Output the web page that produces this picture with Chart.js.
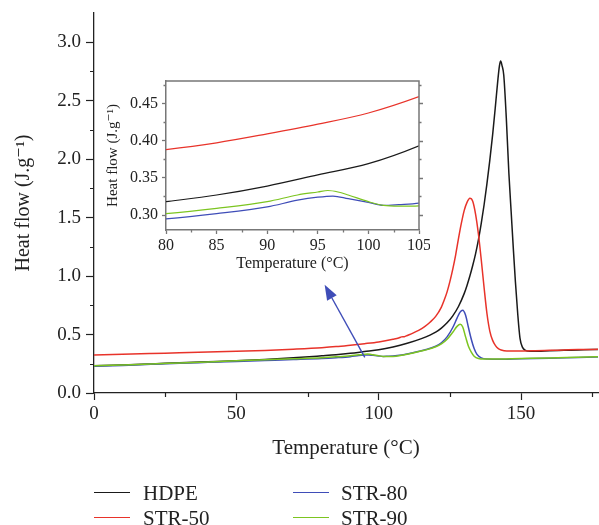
<!DOCTYPE html>
<html><head><meta charset="utf-8">
<script src="https://cdn.jsdelivr.net/npm/chart.js@4.4.1/dist/chart.umd.min.js"></script>
<style>
html,body{margin:0;padding:0;background:#fff;}
#wrap{position:relative;width:599px;height:525px;overflow:hidden;background:#fff;}
#main{position:absolute;left:0;top:0;}
#inset{position:absolute;left:100px;top:70px;}
.lg{position:absolute;height:24px;line-height:24px;font-family:"Liberation Serif","DejaVu Serif",serif;font-size:21px;color:#222;white-space:nowrap;}
.ln{position:absolute;height:0;border-top:1.5px solid #000;}
</style>
</head><body>
<div id="wrap">
<canvas id="main" width="599" height="525"></canvas>
<canvas id="inset" width="330" height="210"></canvas>
</div>
<script>
// ---------- data ----------
const seriesNames = ['HDPE', 'STR-50', 'STR-80', 'STR-90'];
const seriesColors = ['#1a1a1a', '#e8332a', '#3f4db8', '#7cc520'];

const hdpeT  = [0,10,20,30,40,50,60,70,80,85,90,95,100,105,110,115,118,120,122,124,126,128,130,131,132,133,134,135,136,137,138,139,140,141,141.8,142.4,142.8,143.3,143.9,144.8,145.7,146.5,147.3,148,148.8,149.6,150.5,151.5,153,156,160,165,170,175,177];
const hdpeHF = [0.232,0.240,0.249,0.258,0.267,0.276,0.287,0.301,0.318,0.327,0.339,0.354,0.369,0.393,0.425,0.465,0.495,0.52,0.555,0.60,0.66,0.74,0.85,0.92,1.00,1.09,1.19,1.31,1.45,1.61,1.79,1.99,2.21,2.46,2.67,2.80,2.84,2.80,2.72,2.35,1.88,1.55,1.22,0.95,0.68,0.47,0.39,0.365,0.357,0.358,0.362,0.365,0.368,0.371,0.372];

const str50T  = [0,10,20,30,40,50,60,70,80,85,90,95,100,105,107,108,109,110,112,114,116,118,120,122,123,124,125,126,127,128,129,130,131,132,133,134,135,136,137,138,139,140,141,142,143,145,150,155,160,165,170,177];
const str50HF = [0.326,0.332,0.338,0.344,0.350,0.357,0.364,0.375,0.388,0.397,0.409,0.422,0.437,0.459,0.470,0.480,0.482,0.492,0.512,0.535,0.565,0.605,0.655,0.735,0.795,0.865,0.955,1.06,1.18,1.32,1.45,1.56,1.63,1.665,1.64,1.53,1.36,1.14,0.90,0.68,0.53,0.45,0.405,0.38,0.368,0.36,0.360,0.362,0.365,0.368,0.371,0.374];

const str80T  = [0,10,20,30,40,50,60,70,80,85,90,93,95,96.5,98,100,101.5,103,105,108,112,116,120,122,124,126,127.5,128.5,129.5,130.5,131.5,132.5,133.5,134.5,136,138,140,150,160,170,177];
const str80HF = [0.228,0.236,0.245,0.254,0.262,0.270,0.278,0.286,0.295,0.302,0.311,0.320,0.324,0.3255,0.322,0.317,0.313,0.314,0.316,0.325,0.345,0.368,0.40,0.43,0.48,0.56,0.64,0.69,0.708,0.665,0.56,0.46,0.38,0.33,0.30,0.29,0.289,0.293,0.298,0.304,0.308];

const str90T  = [0,10,20,30,40,50,60,70,80,85,90,93,95,96,97,98,100,101.5,103,105,108,112,116,120,122,124,126,127.5,128.6,129.5,130.5,131.5,132.5,133.5,135,137,140,150,160,170,177];
const str90HF = [0.232,0.240,0.248,0.257,0.266,0.275,0.284,0.293,0.302,0.309,0.318,0.327,0.331,0.333,0.331,0.327,0.318,0.313,0.312,0.3125,0.322,0.342,0.365,0.395,0.42,0.46,0.52,0.57,0.588,0.565,0.48,0.40,0.35,0.315,0.295,0.290,0.290,0.295,0.300,0.306,0.310];

const mainXTicks = [0, 50, 100, 150];
const mainXMinor = [25, 75, 125, 175];
const mainYTicks = [0, 0.5, 1.0, 1.5, 2.0, 2.5, 3.0];
const mainYMinor = [0.25, 0.75, 1.25, 1.75, 2.25, 2.75];
const insetXTicks = [80, 85, 90, 95, 100, 105];
const insetXMinor = [82.5, 87.5, 92.5, 97.5, 102.5];
const insetYTicks = [0.30, 0.35, 0.40, 0.45];
const insetYMinor = [0.325, 0.375, 0.425, 0.475];

const xTitle = 'Temperature (°C)';
const yTitle = 'Heat flow (J.g⁻¹)';

// arrow annotation (data coordinates of main chart)
const arrowFrom = {x: 95.1, y: 0.304};
const arrowTo = {x: 81.0, y: 0.925};

// ---------- helpers ----------
const SERIF = "'Liberation Serif','DejaVu Serif',serif";
const TXT = '#222';
const seriesT = [hdpeT, str50T, str80T, str90T];
const seriesHF = [hdpeHF, str50HF, str80HF, str90HF];

function makeDatasets(lw) {
  return seriesNames.map((name, i) => ({
    label: name,
    data: seriesT[i].map((t, j) => ({x: t, y: seriesHF[i][j]})),
    borderColor: seriesColors[i],
    backgroundColor: seriesColors[i],
    borderWidth: lw,
    pointRadius: 0,
    fill: false,
    cubicInterpolationMode: 'monotone',
    order: 4 - i
  }));
}

const minorTickPlugin = {
  id: 'minorTicks',
  afterDraw(chart, args, o) {
    const ctx = chart.ctx, xs = chart.scales.x, ys = chart.scales.y, ca = chart.chartArea;
    ctx.save();
    ctx.strokeStyle = o.color; ctx.lineWidth = o.width;
    ctx.beginPath();
    (o.x || []).forEach(v => { const p = Math.round(xs.getPixelForValue(v)) + 0.5; ctx.moveTo(p, ca.bottom); ctx.lineTo(p, ca.bottom + o.len); });
    (o.y || []).forEach(v => { const p = Math.round(ys.getPixelForValue(v)) + 0.5; ctx.moveTo(ca.left, p); ctx.lineTo(ca.left - o.len, p); });
    if (o.frame) {
      ctx.stroke();
      ctx.beginPath();
      ctx.lineWidth = o.frameWidth || o.width;
      ctx.moveTo(ca.left, ca.top); ctx.lineTo(ca.right, ca.top); ctx.lineTo(ca.right, ca.bottom);
      ctx.stroke();
      ctx.beginPath();
      ctx.lineWidth = o.width;
      (o.rightMajor || []).forEach(v => { const p = Math.round(ys.getPixelForValue(v)) + 0.5; ctx.moveTo(ca.right, p); ctx.lineTo(ca.right + o.majorLen, p); });
      (o.y || []).forEach(v => { const p = Math.round(ys.getPixelForValue(v)) + 0.5; ctx.moveTo(ca.right, p); ctx.lineTo(ca.right + o.len, p); });
    }
    ctx.stroke();
    ctx.restore();
  }
};

const arrowPlugin = {
  id: 'arrow',
  afterDatasetsDraw(chart, args, o) {
    if (!o.from) return;
    const xs = chart.scales.x, ys = chart.scales.y, ctx = chart.ctx;
    const x1 = xs.getPixelForValue(o.from.x), y1 = ys.getPixelForValue(o.from.y);
    const x2 = xs.getPixelForValue(o.to.x), y2 = ys.getPixelForValue(o.to.y);
    const ang = Math.atan2(y2 - y1, x2 - x1);
    const hl = 15, hw = 5.5;
    const bx = x2 - hl * Math.cos(ang), by = y2 - hl * Math.sin(ang);
    ctx.save();
    ctx.strokeStyle = o.color; ctx.fillStyle = o.color; ctx.lineWidth = 1.4;
    ctx.beginPath(); ctx.moveTo(x1, y1); ctx.lineTo(bx, by); ctx.stroke();
    ctx.beginPath();
    ctx.moveTo(x2, y2);
    ctx.lineTo(bx + hw * Math.sin(ang), by - hw * Math.cos(ang));
    ctx.lineTo(bx - hw * Math.sin(ang), by + hw * Math.cos(ang));
    ctx.closePath(); ctx.fill();
    ctx.restore();
  }
};

function setTicks(arr) { return s => { s.ticks = arr.map(v => ({value: v})); }; }
function fitTo(prop, val) {
  return s => { s[prop] = val; s.paddingTop = 0; s.paddingBottom = 0; s.paddingLeft = 0; s.paddingRight = 0; };
}

// ---------- main chart ----------
new Chart(document.getElementById('main'), {
  type: 'line',
  data: {datasets: makeDatasets(1.5)},
  plugins: [minorTickPlugin, arrowPlugin],
  options: {
    responsive: false, animation: false,
    layout: {padding: {left: 0, right: 1, top: 13, bottom: 62}},
    plugins: {
      legend: {display: false}, tooltip: {enabled: false},
      minorTicks: {x: mainXMinor, y: mainYMinor, len: 4, color: '#222', width: 1.2},
      arrow: {from: arrowFrom, to: arrowTo, color: '#3f4db8'}
    },
    scales: {
      x: {
        type: 'linear', position: 'bottom', min: 0, max: 177,
        afterBuildTicks: setTicks(mainXTicks),
        afterFit: fitTo('height', 70),
        grid: {drawOnChartArea: false, drawTicks: true, tickLength: 7, color: '#222', tickWidth: 1.2},
        border: {display: true, color: '#222', width: 1.3},
        ticks: {font: {family: SERIF, size: 19}, color: TXT, padding: 3, maxRotation: 0, autoSkip: false, callback: v => String(v)},
        title: {display: true, text: xTitle, font: {family: SERIF, size: 21}, color: TXT, padding: {top: 0, bottom: 2}}
      },
      y: {
        type: 'linear', position: 'left', min: 0, max: 3.25,
        afterBuildTicks: setTicks(mainYTicks),
        afterFit: fitTo('width', 94),
        grid: {drawOnChartArea: false, drawTicks: true, tickLength: 8, color: '#222', tickWidth: 1.2},
        border: {display: true, color: '#222', width: 1.3},
        ticks: {font: {family: SERIF, size: 19}, color: TXT, padding: 5, autoSkip: false, callback: v => Number(v).toFixed(1)},
        title: {display: true, text: yTitle, font: {family: SERIF, size: 20}, color: TXT, padding: {top: 12, bottom: 0}}
      }
    }
  }
});

// ---------- inset chart ----------
new Chart(document.getElementById('inset'), {
  type: 'line',
  data: {datasets: makeDatasets(1.2)},
  plugins: [minorTickPlugin],
  options: {
    responsive: false, animation: false,
    layout: {padding: {left: 0, right: 11, top: 11, bottom: 0}},
    plugins: {
      legend: {display: false}, tooltip: {enabled: false},
      minorTicks: {x: insetXMinor, y: insetYMinor, len: 2.5, majorLen: 4, rightMajor: insetYTicks, frame: true, frameWidth: 1.5, color: '#777', width: 1.3}
    },
    scales: {
      x: {
        type: 'linear', position: 'bottom', min: 80, max: 105,
        afterBuildTicks: setTicks(insetXTicks),
        afterFit: fitTo('height', 50),
        grid: {drawOnChartArea: false, drawTicks: true, tickLength: 4, color: '#777', tickWidth: 1.3},
        border: {display: true, color: '#777', width: 1.5},
        ticks: {font: {family: SERIF, size: 16}, color: TXT, padding: 2, maxRotation: 0, autoSkip: false, callback: v => String(v)},
        title: {display: true, text: xTitle, font: {family: SERIF, size: 16}, color: TXT, padding: {top: 0, bottom: 7}}
      },
      y: {
        type: 'linear', position: 'left', min: 0.28, max: 0.48,
        afterBuildTicks: setTicks(insetYTicks),
        afterFit: fitTo('width', 66),
        grid: {drawOnChartArea: false, drawTicks: true, tickLength: 4, color: '#777', tickWidth: 1.3},
        border: {display: true, color: '#777', width: 1.5},
        ticks: {font: {family: SERIF, size: 16}, color: TXT, padding: 4, autoSkip: false, callback: v => Number(v).toFixed(2)},
        title: {display: true, text: yTitle, font: {family: SERIF, size: 15}, color: TXT, padding: {top: 4, bottom: 0}}
      }
    }
  }
});

// ---------- legend (HTML, built from series arrays) ----------
const legendSlots = [[0, 0], [0, 1], [1, 0], [1, 1]]; // [column,row] per series
const colLineX = [94, 293], colTextX = [143, 341], rowY = [493, 518];
const wrap = document.getElementById('wrap');
seriesNames.forEach((name, i) => {
  const [c, r] = legendSlots[i];
  const ln = document.createElement('div');
  ln.className = 'ln';
  ln.style.left = colLineX[c] + 'px'; ln.style.width = '36px';
  ln.style.top = (rowY[r] - 1) + 'px'; ln.style.borderTopColor = seriesColors[i];
  wrap.appendChild(ln);
  const t = document.createElement('div');
  t.className = 'lg'; t.textContent = name;
  t.style.left = colTextX[c] + 'px'; t.style.top = (rowY[r] - 12) + 'px';
  wrap.appendChild(t);
});
</script>
</body></html>
